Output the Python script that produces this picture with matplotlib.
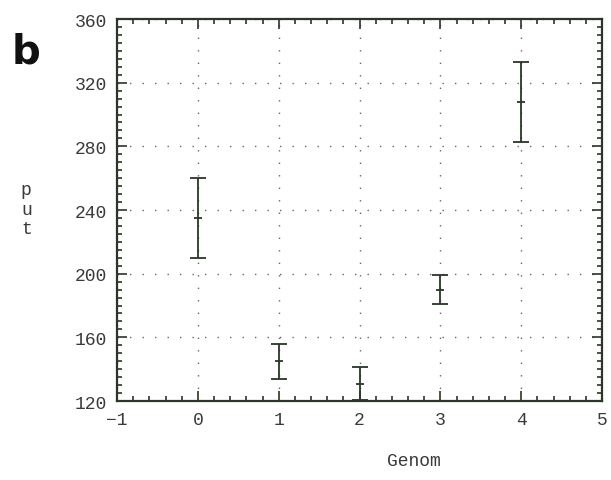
import matplotlib
matplotlib.use('Agg')
import matplotlib.pyplot as plt
from matplotlib.ticker import MultipleLocator

# values
genom = [0, 1, 2, 3, 4]
put_mean = [235, 145, 131, 190, 308]
put_err = [25, 11, 10.5, 9, 25]

x_ticks = [-1, 0, 1, 2, 3, 4, 5]
y_ticks = [120, 160, 200, 240, 280, 320, 360]

ink = '#2b3529'
text_col = '#3a3a3a'
mono = ['Liberation Mono', 'DejaVu Sans Mono']

fig = plt.figure(figsize=(6.11, 4.81), dpi=100)
ax = fig.add_axes([0.1915, 0.1642, 0.7938, 0.7942])

ax.errorbar(genom, put_mean, yerr=put_err, fmt='none', ecolor=ink,
            elinewidth=1.3, capsize=5.5, capthick=1.3, clip_on=True)
ax.plot(genom, put_mean, linestyle='none', marker='_', markersize=6,
        markeredgewidth=1.3, color=ink)

ax.set_xlim(-1, 5)
ax.set_ylim(120, 360)
ax.set_xticks(x_ticks)
ax.set_yticks(y_ticks)
ax.set_xticklabels(['\u22121' if t < 0 else str(t) for t in x_ticks],
                   family=mono, fontsize=13, color=text_col)
ax.set_yticklabels([str(t) for t in y_ticks], family=mono, fontsize=13,
                   color=text_col)
ax.xaxis.set_minor_locator(MultipleLocator(0.2))
ax.yaxis.set_minor_locator(MultipleLocator(5))

ax.tick_params(which='both', direction='in', top=True, right=True,
               color=ink, width=1.2)
ax.tick_params(which='major', length=7, pad=7)
ax.tick_params(which='minor', length=3.5)

ax.grid(True, which='major', color='#666666', linewidth=1.0,
        linestyle=(0, (1, 8)))

for side in ax.spines.values():
    side.set_color(ink)
    side.set_linewidth(1.6)

fig.text(0.043, 0.563, 'p\nu\nt', family=mono, fontsize=13, color=text_col,
         ha='center', va='center', linespacing=1.2)
fig.text(0.678, 0.04, 'Genom', family=mono, fontsize=13, color=text_col,
         ha='center', va='center')
fig.text(0.043, 0.89, 'b', family='DejaVu Sans', fontweight='bold',
         fontsize=29, color='#111111', ha='center', va='center')

fig.savefig('out.png', dpi=100)
